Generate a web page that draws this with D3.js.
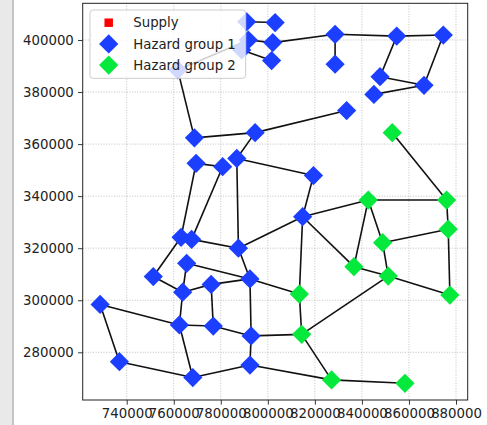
<!DOCTYPE html>
<html><head><meta charset="utf-8">
<script src="https://cdn.jsdelivr.net/npm/d3@7"></script>
<style>
html,body{margin:0;padding:0;background:#fff;}
svg{display:block;font-family:"DejaVu Sans",sans-serif;}
</style></head>
<body><svg id="c" width="487" height="425"></svg>
<script>
// ---- data ----
const nodeX = [791000,803100,791700,802100,788900,801600,828600,828600,854800,874600,847700,845100,866400,833500,761700,768800,794600,769500,780800,786800,819400,814800,763100,767600,787500,765500,751300,763800,775900,792400,728700,762400,776800,792900,736900,768100,792400,
               852900,842700,876000,876700,848800,836600,851200,877400,813400,814400,827100,858300];
const nodeY = [407000,406700,400000,399000,396200,392100,402200,390700,401500,401900,385900,379100,382600,372900,388500,362400,364400,352600,351300,354500,347900,332100,324200,323400,320000,314200,309100,303100,306100,308200,298400,290500,290100,286300,276400,270300,275100,
               364400,338500,338500,327300,322100,312900,309300,302000,302400,286900,269400,268100];
const nodeGroup = [1,1,1,1,1,1,1,1,1,1,1,1,1,1,1,1,1,1,1,1,1,1,1,1,1,1,1,1,1,1,1,1,1,1,1,1,1,
                   2,2,2,2,2,2,2,2,2,2,2,2];
const edges = [[1,2],[3,4],[5,6],[4,7],[7,9],[9,10],[7,8],[9,11],[10,13],[11,13],[12,13],
  [15,3],[15,16],[16,17],[17,14],[17,20],[18,19],[18,23],[19,24],[20,21],[20,25],
  [21,22],[22,39],[22,25],[22,43],[22,46],[24,25],[23,27],[25,30],[26,30],[30,46],[26,28],
  [27,28],[28,29],[29,30],[29,33],[28,32],[30,34],[31,32],[31,35],[32,33],[32,36],[33,34],
  [34,47],[34,37],[35,36],[36,37],[37,48],[47,48],[48,49],[46,47],[47,44],[38,40],[39,40],
  [39,43],[39,42],[40,41],[41,42],[41,45],[42,44],[43,44],[44,45]];
const xTicks = [740000,760000,780000,800000,820000,840000,860000,880000];
const yTicks = [280000,300000,320000,340000,360000,380000,400000];
const legendLabels = ["Supply","Hazard group 1","Hazard group 2"];
const groupColors = {0:"#ff0000",1:"#1c3fff",2:"#05e83c"};

// ---- layout ----
const svg = d3.select("#c");
const L=82.7, R=467.7, T=3.3, B=400;
const x = d3.scaleLinear().domain([721293,884974]).range([L,R]);
const y = d3.scaleLinear().domain([261675,414099]).range([B,T]);

// left gray strip
svg.append("rect").attr("x",0).attr("y",0).attr("width",12).attr("height",425).attr("fill","#e9e9e9");
svg.append("rect").attr("x",12).attr("y",0).attr("width",2).attr("height",425).attr("fill","#c4c4c4");

// grid
const g = svg.append("g");
g.selectAll(".gx").data(xTicks).join("line")
  .attr("x1",d=>x(d)).attr("x2",d=>x(d)).attr("y1",T).attr("y2",B)
  .attr("stroke","#b0b0b0").attr("stroke-width",0.8).attr("stroke-dasharray","1,1.6");
g.selectAll(".gy").data(yTicks).join("line")
  .attr("y1",d=>y(d)).attr("y2",d=>y(d)).attr("x1",L).attr("x2",R)
  .attr("stroke","#b0b0b0").attr("stroke-width",0.8).attr("stroke-dasharray","1,1.6");

// axes
const xAxis = d3.axisBottom(x).tickValues(xTicks).tickFormat(d3.format("d")).tickSize(4.7).tickPadding(4.2);
const yAxis = d3.axisLeft(y).tickValues(yTicks).tickFormat(d3.format("d")).tickSize(4.7).tickPadding(4.2);
const ax = svg.append("g").attr("transform",`translate(0,${B})`).call(xAxis);
const ay = svg.append("g").attr("transform",`translate(${L},0)`).call(yAxis);
[ax,ay].forEach(a=>{
  a.select(".domain").remove();
  a.selectAll("line").attr("stroke","#222").attr("stroke-width",0.9);
  a.selectAll("text").attr("fill","#222").style("font-size","13.3px").style("font-family","DejaVu Sans");
});

// edges
const pts = nodeX.map((v,i)=>({x:v,y:nodeY[i],g:nodeGroup[i]}));
svg.append("g").selectAll("line").data(edges).join("line")
  .attr("x1",d=>x(pts[d[0]-1].x)).attr("y1",d=>y(pts[d[0]-1].y))
  .attr("x2",d=>x(pts[d[1]-1].x)).attr("y2",d=>y(pts[d[1]-1].y))
  .attr("stroke","#111").attr("stroke-width",1.6);

// nodes
const sym = d3.symbol().type(d3.symbolSquare).size(185);
svg.append("g").selectAll("path").data(pts).join("path")
  .attr("d",sym)
  .attr("transform",d=>`translate(${x(d.x)},${y(d.y)}) rotate(45)`)
  .attr("fill",d=>groupColors[d.g]);

// frame
svg.append("rect").attr("x",L).attr("y",T).attr("width",R-L).attr("height",B-T)
  .attr("fill","none").attr("stroke","#222").attr("stroke-width",1);

// legend
const lg = svg.append("g");
lg.append("rect").attr("x",90).attr("y",10).attr("width",155.7).attr("height",68.3).attr("rx",3)
  .attr("fill","#fff").attr("fill-opacity",0.8).attr("stroke","#cccccc").attr("stroke-width",1);
const rows = legendLabels.map((t,i)=>({t, g:i, cy:22.7 + i*21.2}));
lg.selectAll(".m").data(rows).join("path")
  .attr("d",d=>d.g===0 ? d3.symbol().type(d3.symbolSquare).size(72)() : sym())
  .attr("transform",d=>`translate(108.7,${d.cy})` + (d.g===0?"":" rotate(45)"))
  .attr("fill",d=>groupColors[d.g]);
lg.selectAll("text").data(rows).join("text")
  .attr("x",133.3).attr("y",d=>d.cy).attr("dy","0.36em")
  .attr("fill","#222").style("font-size","13.3px").text(d=>d.t);
</script></body></html>
